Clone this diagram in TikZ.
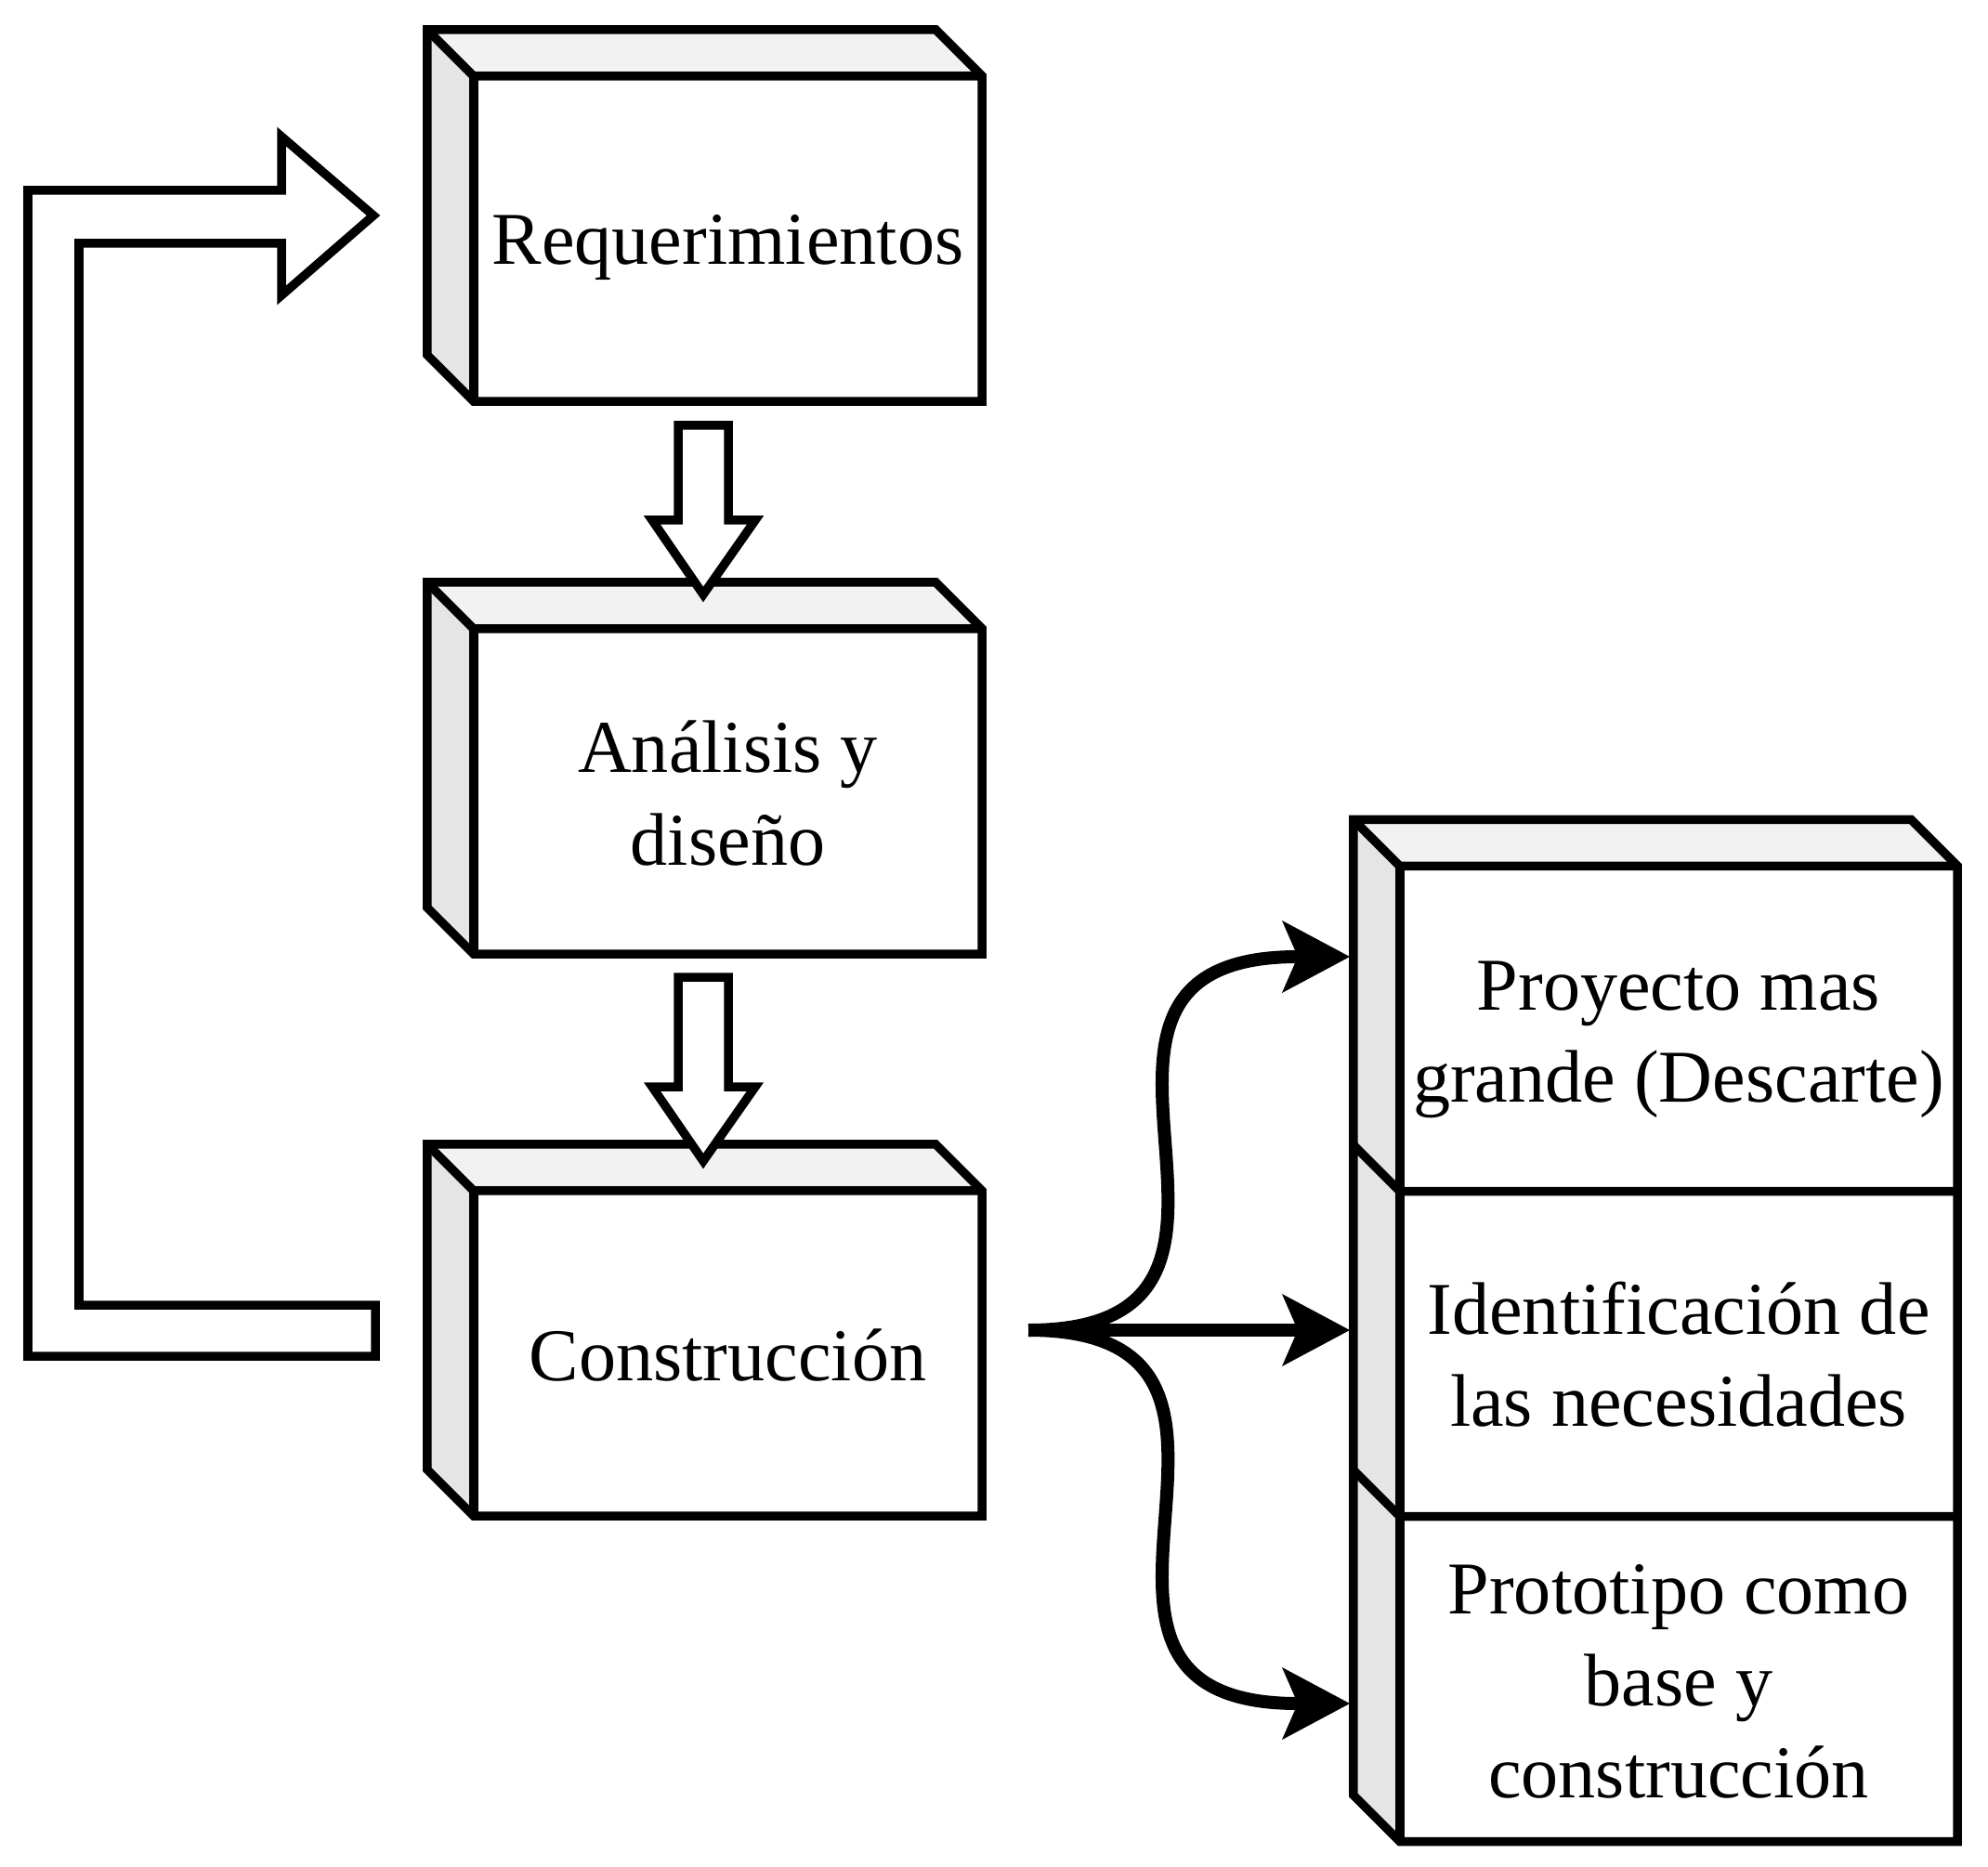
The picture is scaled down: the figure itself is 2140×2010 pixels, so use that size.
\documentclass[tikz,border=0pt]{standalone}
\usepackage{fontspec}
\setmainfont{Liberation Serif}
\usetikzlibrary{arrows.meta,calc}
\definecolor{topgray}{HTML}{F2F2F2}
\definecolor{sidegray}{HTML}{E5E5E5}
\begin{document}
\begin{tikzpicture}[x=0.01cm,y=-0.01cm,
  boxline/.style={line width=0.095cm, line join=miter},
  front/.style={boxline, fill=white, minimum width=5.47cm, minimum height=3.5cm,
    inner sep=0pt, outer sep=0pt},
  cell/.style={front, minimum width=6.0cm},
  txt/.style={align=center, inner sep=0pt, font=\fontsize{22.8pt}{28.2pt}\selectfont},
  topface/.style={fill=topgray},
  sideface/.style={fill=sidegray},
  edge/.style={boxline, draw},
  blockarrow/.style={boxline, draw, fill=white},
  conn/.style={line width=0.14cm, -{Stealth[length=0.73cm,width=0.78cm,inset=0.17cm,line width=0pt]}}
]
\useasboundingbox (0,0) rectangle (2140,2010);

% main column
\node[front] (req) at (783.5,257) {};
\node[front] (ana) at (783.5,852) {};
\node[front] (con) at (783.5,1457) {};
\foreach \n in {req,ana,con}{
  \fill[topface] (\n.north west) -- ++(-50,-50) -- ($(\n.north east)+(-50,-50)$) -- (\n.north east) -- cycle;
  \fill[sideface] (\n.north west) -- ++(-50,-50) -- ($(\n.south west)+(-50,-50)$) -- (\n.south west) -- cycle;
  \draw[edge] ($(\n.north west)+(-50,-50)$) -- ($(\n.north east)+(-50,-50)$) -- (\n.north east)
    -- (\n.south east) -- (\n.south west) -- ($(\n.south west)+(-50,-50)$) -- cycle;
  \draw[edge] ($(\n.north west)+(-50,-50)$) -- (\n.north west) -- (\n.north east);
  \draw[edge] (\n.north west) -- (\n.south west);
}
\node[txt] (reqtext) at ($(req.center)+(0,10)$) {Requerimientos};
\node[txt] (anatext) at ($(ana.center)+(0,2)$) {Análisis y\\diseño};
\node[txt] (context) at ($(con.center)+(0,2)$) {Construcción};

% right stack
\node[cell] (p1) at (1807,1107.5) {};
\node[cell] (p2) at (1807,1457.5) {};
\node[cell] (p3) at (1807,1807.5) {};
\fill[topface] (p1.north west) -- ++(-50,-50) -- ($(p1.north east)+(-50,-50)$) -- (p1.north east) -- cycle;
\fill[sideface] (p1.north west) -- ++(-50,-50) -- ($(p3.south west)+(-50,-50)$) -- (p3.south west) -- cycle;
\draw[edge] ($(p1.north west)+(-50,-50)$) -- ($(p1.north east)+(-50,-50)$) -- (p1.north east)
  -- (p3.south east) -- (p3.south west) -- ($(p3.south west)+(-50,-50)$) -- cycle;
\draw[edge] ($(p1.north west)+(-50,-50)$) -- (p1.north west) -- (p1.north east);
\draw[edge] (p1.north west) -- (p3.south west);
\draw[edge] ($(p1.south west)+(-50,-50)$) -- (p1.south west) -- (p1.south east);
\draw[edge] ($(p2.south west)+(-50,-50)$) -- (p2.south west) -- (p2.south east);
\node[txt] (p1text) at ($(p1.center)+(0,12)$) {Proyecto mas\\grande (Descarte)};
\node[txt] (p2text) at ($(p2.center)+(0,1)$) {Identificación de\\las necesidades};
\node[txt] (p3text) at ($(p3.center)+(0,3)$) {Prototipo como\\base y\\construcción};

% block arrows down
\filldraw[blockarrow] (730,458) -- (784,458) -- (784,560) -- (813,560) -- (757,640) -- (702,560) -- (730,560) -- cycle;
\filldraw[blockarrow] (730,1052) -- (784,1052) -- (784,1170) -- (813,1170) -- (757,1250) -- (702,1170) -- (730,1170) -- cycle;

% loop arrow back to Requerimientos
\filldraw[blockarrow] (30,1460) -- (30,205) -- (303,205) -- (303,147) -- (402,232) -- (303,318)
  -- (303,262) -- (85,262) -- (85,1405) -- (404,1405) -- (404,1460) -- cycle;

% connectors
\coordinate (src) at (1107,1432);
\coordinate (t1) at (1453,1030);
\coordinate (t2) at (1453,1432);
\coordinate (t3) at (1453,1834);
\draw[conn] (src) -- (t2);
\draw[conn] (src) .. controls (1430,1432) and (1080,1030) .. (t1);
\draw[conn] (src) .. controls (1430,1432) and (1080,1834) .. (t3);
\end{tikzpicture}
\end{document}
